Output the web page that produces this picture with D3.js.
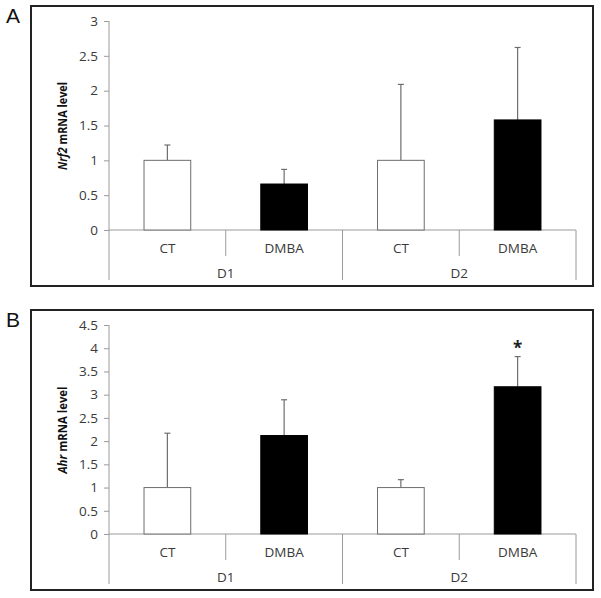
<!DOCTYPE html>
<html><head><meta charset="utf-8">
<script src="https://cdn.jsdelivr.net/npm/d3@7"></script>
<style>body{margin:0;background:#fff}svg{display:block}text{font-family:"Open Sans",sans-serif}</style>
</head><body><svg id="c" width="601" height="598"></svg>
<script>
const groups = ["D1", "D2"];
const treatments = ["CT", "DMBA"];
const nrf2Values = [1.0, 0.66, 1.0, 1.58];
const nrf2Errors = [0.22, 0.21, 1.09, 1.04];
const nrf2Ticks = [0, 0.5, 1, 1.5, 2, 2.5, 3];
const ahrValues = [1.0, 2.12, 1.0, 3.17];
const ahrErrors = [1.17, 0.77, 0.17, 0.65];
const ahrTicks = [0, 0.5, 1, 1.5, 2, 2.5, 3, 3.5, 4, 4.5];
const ahrStars = ["", "", "", "*"];

const svg = d3.select("#c");
const cats = [];
groups.forEach(g => treatments.forEach(t => cats.push({g, t, key: g + "|" + t})));
const FS = 13.5;

function panel(opts) {
  const {top, label, gene, values, errors, ticks, ymax, stars} = opts;
  const g = svg.append("g");
  g.append("rect").attr("x", 31).attr("y", top).attr("width", 562).attr("height", 280)
    .attr("fill", "none").attr("stroke", "#222").attr("stroke-width", 2);
  g.append("text").attr("x", 6).attr("y", top + 17).attr("font-size", 21).attr("fill", "#111")
    .style("font-family", "'Liberation Sans',Arial,sans-serif").text(label);
  const x0 = 109, x1 = 576, yTop = top + 15, yBase = top + 224;
  const x = d3.scaleBand().domain(cats.map(c => c.key)).range([x0, x1]).paddingInner(0).paddingOuter(0);
  const y = d3.scaleLinear().domain([0, ymax]).range([yBase, yTop]);
  const ya = d3.axisLeft(y).tickValues(ticks).tickSize(5).tickSizeOuter(0).tickPadding(6).tickFormat(d3.format("~g"));
  const yg = g.append("g").attr("transform", `translate(${x0},0)`).call(ya);
  yg.select(".domain").remove();
  yg.selectAll(".tick line").attr("stroke", "#9a9a9a");
  yg.selectAll(".tick text").attr("fill", "#3a3a3a").attr("font-size", FS).style("font-family", "'Open Sans',sans-serif");
  g.append("line").attr("x1", x0).attr("x2", x0).attr("y1", yTop).attr("y2", top + 274).attr("stroke", "#9a9a9a");
  g.append("line").attr("x1", x0).attr("x2", x1).attr("y1", yBase).attr("y2", yBase).attr("stroke", "#9a9a9a");
  cats.forEach((c, i) => {
    const xr = x(c.key) + x.bandwidth();
    const long = (i % 2 === 1);
    g.append("line").attr("x1", xr).attr("x2", xr).attr("y1", yBase)
      .attr("y2", long ? top + 274 : top + 250).attr("stroke", "#9a9a9a");
    g.append("text").attr("x", x(c.key) + x.bandwidth() / 2).attr("y", top + 247)
      .attr("text-anchor", "middle").attr("font-size", FS).attr("fill", "#3a3a3a").text(c.t);
  });
  groups.forEach((gr) => {
    const a = x(gr + "|" + treatments[0]), b = x(gr + "|" + treatments[1]) + x.bandwidth();
    g.append("text").attr("x", (a + b) / 2).attr("y", top + 272).attr("text-anchor", "middle")
      .attr("font-size", FS).attr("fill", "#3a3a3a").text(gr);
  });
  const bw = x.bandwidth() * 0.4;
  cats.forEach((c, i) => {
    const cx = x(c.key) + x.bandwidth() / 2;
    const v = values[i], e = errors[i];
    g.append("line").attr("x1", cx).attr("x2", cx).attr("y1", y(v)).attr("y2", y(v + e)).attr("stroke", "#6e6e6e").attr("stroke-width", 1.2);
    g.append("line").attr("x1", cx - 3).attr("x2", cx + 3).attr("y1", y(v + e)).attr("y2", y(v + e)).attr("stroke", "#6e6e6e").attr("stroke-width", 1.2);
    g.append("rect").attr("x", cx - bw / 2).attr("y", y(v)).attr("width", bw).attr("height", y(0) - y(v))
      .attr("fill", c.t === "CT" ? "#fff" : "#000").attr("stroke", c.t === "CT" ? "#6e6e6e" : "#000").attr("stroke-width", 1);
    if (stars && stars[i]) {
      g.append("text").attr("x", cx).attr("y", y(v + e) - 3).attr("text-anchor", "middle")
        .attr("font-size", 17).attr("font-weight", "bold").attr("fill", "#222").text(stars[i]);
    }
  });
  const t = g.append("text").attr("transform", `translate(67,${top + 120}) rotate(-90)`)
    .attr("text-anchor", "middle").attr("font-size", 12).attr("font-weight", "bold").attr("fill", "#111")
    .attr("textLength", gene === "Ahr" ? 87 : 88).attr("lengthAdjust", "spacingAndGlyphs");
  t.append("tspan").attr("font-style", "italic").text(gene);
  t.append("tspan").text(" mRNA level");
}

panel({top: 6, label: "A", gene: "Nrf2", values: nrf2Values, errors: nrf2Errors, ticks: nrf2Ticks, ymax: 3});
panel({top: 310, label: "B", gene: "Ahr", values: ahrValues, errors: ahrErrors, ticks: ahrTicks, ymax: 4.5, stars: ahrStars});
</script></body></html>
